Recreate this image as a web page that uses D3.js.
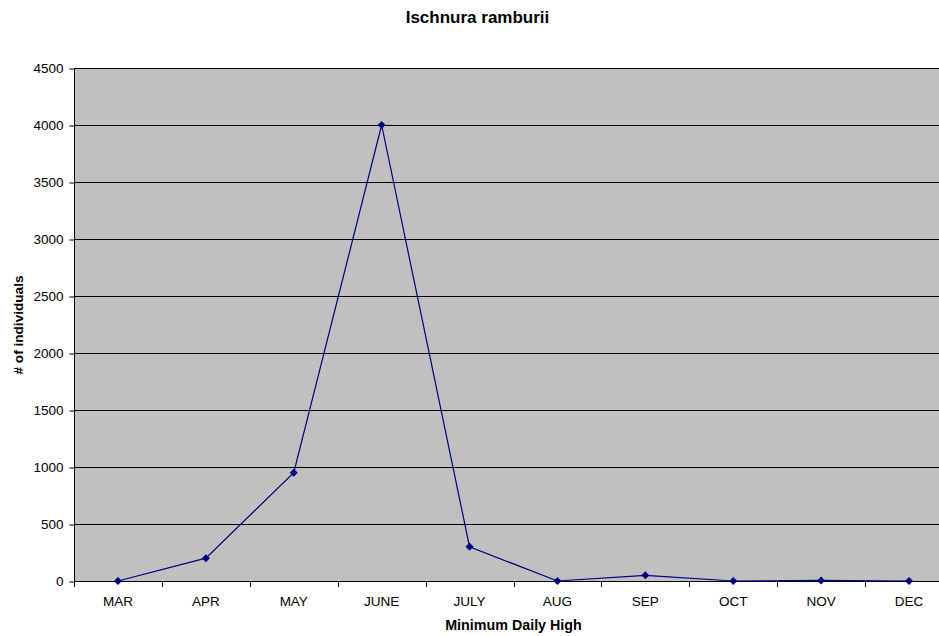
<!DOCTYPE html>
<html><head><meta charset="utf-8">
<script src="https://cdn.jsdelivr.net/npm/d3@7"></script>
<style>body{margin:0;background:#fff}svg{display:block}text{font-family:"Liberation Sans",Arial,sans-serif}</style>
</head><body><svg id="c" width="939" height="636"></svg>
<script>
const categories = ["MAR","APR","MAY","JUNE","JULY","AUG","SEP","OCT","NOV","DEC"];
const values = [0,200,950,4000,300,0,50,0,5,0];
const yTicks = [0,500,1000,1500,2000,2500,3000,3500,4000,4500];

const svg = d3.select("#c");
const L = 74, R = 953, T = 68, B = 581;
const x = d3.scaleBand().domain(categories).range([L, R]);
const y = d3.scaleLinear().domain([0,4500]).range([B, T]);

svg.append("rect").attr("x",L).attr("y",T).attr("width",R-L).attr("height",B-T).attr("fill","#c0c0c0");

svg.append("g").selectAll("line").data(yTicks.slice(1)).join("line")
  .attr("x1",L).attr("x2",R).attr("y1",d=>y(d)+0.5).attr("y2",d=>y(d)+0.5)
  .attr("stroke","#000").attr("stroke-width",1);

const ya = svg.append("g").attr("transform",`translate(${L+0.5},0)`)
  .call(d3.axisLeft(y).tickValues(yTicks).tickSize(5).tickPadding(6).tickFormat(d3.format("d")));
ya.select(".domain").attr("d",`M0,${T}V${B}`);
ya.selectAll(".tick line").attr("transform","translate(0,0.5)");
ya.selectAll("text").attr("font-size",13.5).attr("font-family","Liberation Sans, Arial").attr("fill","#000");

const xa = svg.append("g").attr("transform",`translate(0,${B+0.5})`)
  .call(d3.axisBottom(x).tickSize(0));
xa.select(".domain").attr("d",`M${L},0H${R}`);
xa.selectAll("text").attr("font-size",13.5).attr("font-family","Liberation Sans, Arial").attr("fill","#000")
  .attr("dy",null).attr("y",24);
svg.append("g").selectAll("line").data(categories).join("line")
  .attr("x1",d=>Math.round(x(d))+0.5).attr("x2",d=>Math.round(x(d))+0.5)
  .attr("y1",B).attr("y2",B+6).attr("stroke","#000");

const pts = categories.map((c,i)=>[x(c)+x.bandwidth()/2, y(values[i])]);
svg.append("path").attr("d",d3.line()(pts)).attr("fill","none").attr("stroke","#000080").attr("stroke-width",1.2);
svg.append("g").selectAll("path").data(pts).join("path")
  .attr("d",d=>`M${d[0]},${d[1]-4}L${d[0]+4},${d[1]}L${d[0]},${d[1]+4}L${d[0]-4},${d[1]}Z`)
  .attr("fill","#000080");

svg.append("text").attr("x",477.5).attr("y",23).attr("text-anchor","middle")
  .attr("font-size",17).attr("font-weight","bold").text("Ischnura ramburii");
svg.append("text").attr("x",513.5).attr("y",630).attr("text-anchor","middle")
  .attr("font-size",14.3).attr("font-weight","bold").text("Minimum Daily High");
svg.append("text").attr("transform",`translate(22.5,325) rotate(-90)`).attr("text-anchor","middle")
  .attr("font-size",13.6).attr("font-weight","bold").text("# of individuals");
</script></body></html>
